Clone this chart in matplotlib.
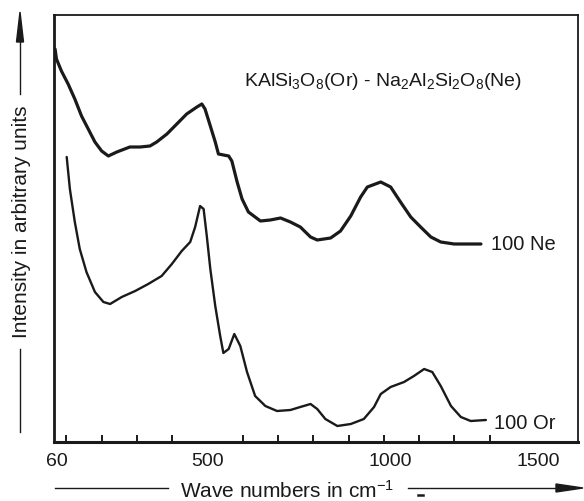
import matplotlib
matplotlib.use("Agg")
import matplotlib.pyplot as plt
from matplotlib.lines import Line2D

plt.rcParams["font.family"] = ["Liberation Sans", "DejaVu Sans"]
plt.rcParams["mathtext.fontset"] = "custom"
plt.rcParams["mathtext.rm"] = "Liberation Sans"
plt.rcParams["mathtext.it"] = "Liberation Sans:italic"
plt.rcParams["mathtext.bf"] = "Liberation Sans:bold"

# ---- spectra (wavenumber in cm-1, intensity arb. units)
ne_wn = [68, 72, 86, 105, 124, 143, 162, 181, 200, 219, 243, 280, 309, 337,
         356, 385, 413, 441, 470, 484, 493, 508, 522, 531, 560, 569, 584, 598,
         616, 650, 678, 707, 735, 763, 792, 811, 849, 877, 906, 934, 953, 991,
         1019, 1047, 1076, 1104, 1133, 1161, 1199, 1275]
ne_int = [393, 383, 371, 358, 343, 326, 313, 300, 291, 286, 290, 295, 295, 296,
          300, 308, 318, 328, 335, 338, 333, 316, 300, 288, 286, 281, 260, 243,
          230, 221, 222, 224, 220, 215, 205, 202, 204, 211, 226, 245, 255, 260,
          255, 240, 225, 215, 205, 200, 198, 198]

or_wn = [101, 110, 124, 138, 157, 181, 205, 224, 257, 295, 332, 370, 399, 427,
         451, 465, 479, 489, 498, 508, 522, 536, 545, 560, 576, 593, 612, 635,
         664, 697, 735, 763, 792, 811, 834, 868, 906, 943, 972, 991, 1019, 1057,
         1085, 1114, 1137, 1161, 1190, 1218, 1246, 1289]
or_int = [285, 253, 220, 193, 170, 150, 140, 138, 145, 151, 158, 166, 178, 191,
          200, 215, 236, 233, 206, 173, 136, 106, 89, 93, 108, 96, 70, 46,
          36, 31, 32, 35, 38, 33, 23, 16, 18, 23, 35, 48, 55, 60,
          66, 73, 70, 56, 36, 25, 21, 22]

series_labels = ["100 Ne", "100 Or"]
title = r"KAlSi$_3$O$_8$(Or) - Na$_2$Al$_2$Si$_2$O$_8$(Ne)"

# tick labels as printed (the scan places them slightly off the tick marks)
tick_labels = ["60", "500", "1000", "1500"]
tick_label_pos = [72, 500, 1019, 1436]
minor_ticks = list(range(100, 1301, 100))

W, H = 584, 502
fig = plt.figure(figsize=(W / 100, H / 100), dpi=100)
ax = fig.add_axes([54 / W, 1 - 443 / H, (578 - 54) / W, (443 - 16) / H])
ink = "#1a1a1a"

ax.plot(ne_wn, ne_int, color=ink, lw=2.3, solid_joinstyle="round",
        solid_capstyle="round")
ax.plot(or_wn, or_int, color=ink, lw=1.7, solid_joinstyle="round",
        solid_capstyle="round")

ax.text(ne_wn[-1] + 28, ne_int[-1], series_labels[0], fontsize=14.5,
        va="center", ha="left", color=ink)
ax.text(or_wn[-1] + 22, or_int[-1] - 3, series_labels[1], fontsize=14.5,
        va="center", ha="left", color=ink)
ax.text(998, 361, title, fontsize=14, ha="center", va="center", color=ink)

ax.set_xlim(65, 1550)
ax.set_ylim(0, 427)
ax.set_xticks(tick_label_pos, tick_labels)
ax.set_xticks(minor_ticks, minor=True)
ax.tick_params(axis="x", which="major", length=0, pad=7, labelsize=14,
               labelcolor=ink)
ax.tick_params(axis="x", which="minor", direction="in", length=5, width=1.4,
               color=ink)
ax.set_yticks([])
for side, lw in (("left", 2.0), ("bottom", 2.2), ("top", 1.3), ("right", 1.3)):
    ax.spines[side].set_linewidth(lw)
    ax.spines[side].set_color(ink)


def fx(px):
    return px / W


def fy(py):
    return 1 - py / H


# y-axis label with its arrow
fig.text(fx(22), fy(222), "Intensity in arbitrary units", rotation=90,
         fontsize=15, ha="center", va="center", color=ink)
fig.add_artist(Line2D([fx(20), fx(20)], [fy(350), fy(433)], color=ink, lw=1.0))
fig.add_artist(Line2D([fx(20), fx(20)], [fy(40), fy(95)], color=ink, lw=1.0))
fig.patches.append(plt.Polygon([[fx(20), fy(13)], [fx(16.5), fy(43)],
                                [fx(23.5), fy(43)]], closed=True,
                               transform=fig.transFigure, color=ink))

# x-axis label with its arrow
fig.text(fx(287), fy(491), r"Wave numbers in cm$^{\mathregular{-1}}$",
         fontsize=15, ha="center", va="center", color=ink)
fig.add_artist(Line2D([fx(55), fx(168)], [fy(489), fy(489)], color=ink, lw=1.0))
fig.add_artist(Line2D([fx(408), fx(560)], [fy(489), fy(489)], color=ink, lw=1.0))
fig.patches.append(plt.Polygon([[fx(583), fy(489)], [fx(556), fy(485)],
                                [fx(556), fy(493)]], closed=True,
                               transform=fig.transFigure, color=ink))
fig.add_artist(Line2D([fx(418), fx(423)], [fy(496), fy(496)], color=ink, lw=1.8))

fig.savefig("out.png", dpi=100)
